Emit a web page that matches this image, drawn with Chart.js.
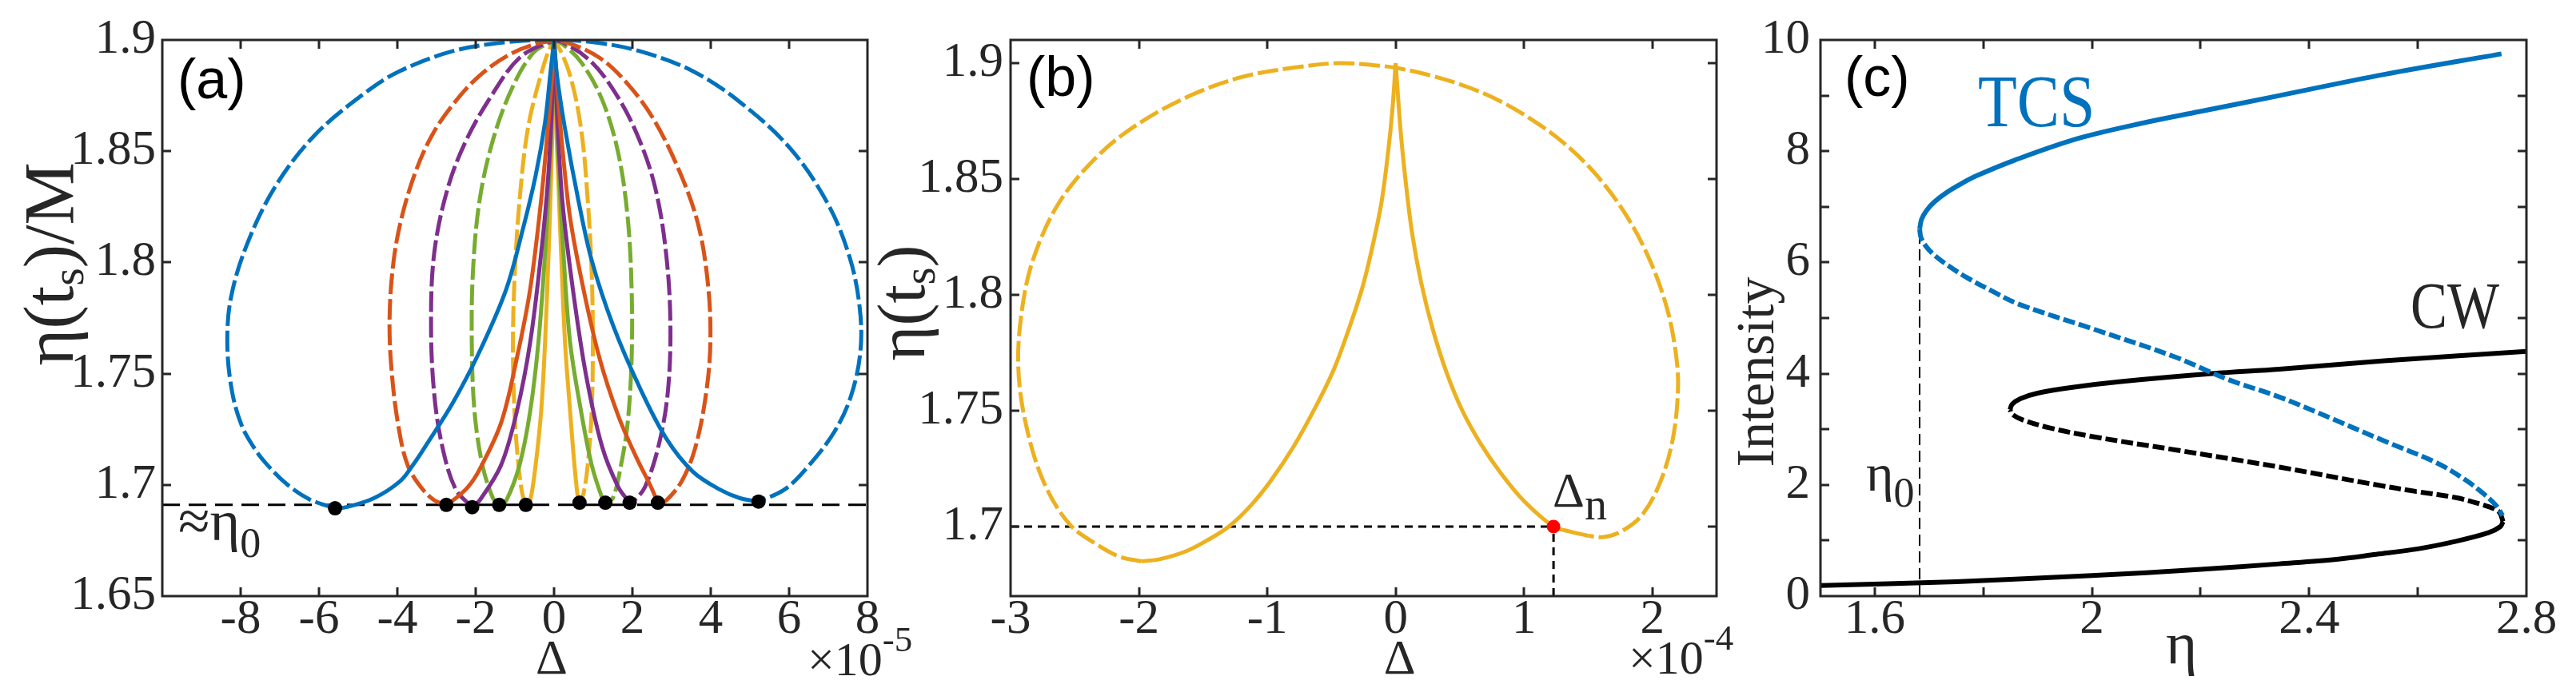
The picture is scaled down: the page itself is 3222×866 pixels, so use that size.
<!DOCTYPE html>
<html>
<head>
<meta charset="utf-8">
<script src="https://cdn.jsdelivr.net/npm/chart.js@4.4.1/dist/chart.umd.min.js"></script>
<style>
  body { margin: 0; background: #fff; }
  #wrap { position: relative; width: 3222px; height: 866px; background: #fff; }
  .panel { position: absolute; top: 0; height: 866px; }
</style>
</head>
<body>
<div id="wrap">
  <div class="panel" style="left:0px;width:1180px"><canvas id="chartA" width="1180" height="866"></canvas></div>
  <div class="panel" style="left:1090px;width:1110px"><canvas id="chartB" width="1110" height="866"></canvas></div>
  <div class="panel" style="left:2160px;width:1062px"><canvas id="chartC" width="1062" height="866"></canvas></div>
</div>
<script>
// ---- panel (a) : eta(ts)/M vs Delta (x1e-5) ----
var blueOuter = [[-5.59,1.6895],[-6.24,1.6935],[-6.8,1.700],[-7.35,1.7096],[-7.67,1.717],[-7.98,1.727],[-8.22,1.742],[-8.34,1.763],[-8.25,1.784],[-7.84,1.808],[-7.12,1.834],[-6.12,1.857],[-4.84,1.876],[-3.94,1.886],[-2.58,1.895],[-1.22,1.899],[0,1.9],[1.0,1.899],[2.18,1.895],[3.54,1.886],[4.75,1.872],[6.04,1.851],[7.0,1.826],[7.55,1.802],[7.80,1.780],[7.82,1.760],[7.58,1.740],[7.16,1.724],[6.47,1.708],[5.89,1.698],[5.22,1.6925]];
var blueSolidL = [[-5.59,1.6895],[-5.3,1.690],[-4.6,1.694],[-3.94,1.7015],[-3.6,1.709],[-3.26,1.718],[-2.58,1.737],[-1.90,1.760],[-1.22,1.788],[-0.81,1.814],[-0.47,1.839],[-0.23,1.863],[-0.10,1.884],[0,1.9]];
var blueSolidR = [[0,1.9],[0.075,1.884],[0.28,1.860],[0.62,1.828],[0.96,1.801],[1.50,1.772],[2.18,1.744],[2.86,1.721],[3.54,1.706],[4.22,1.698],[4.75,1.694],[5.22,1.6925]];
var orangeOuter = [[-2.75,1.691],[-3.05,1.693],[-3.40,1.699],[-3.74,1.709],[-3.96,1.725],[-4.13,1.748],[-4.20,1.772],[-4.12,1.797],[-3.92,1.818],[-3.55,1.840],[-3.12,1.857],[-2.58,1.871],[-1.90,1.884],[-1.08,1.894],[-0.27,1.899],[0.28,1.899],[1.16,1.892],[1.84,1.881],[2.52,1.865],[3.2,1.841],[3.68,1.817],[3.93,1.790],[3.99,1.764],[3.88,1.741],[3.61,1.717],[3.27,1.702],[2.86,1.693],[2.65,1.692]];
var orangeSolidL = [[-2.75,1.691],[-2.58,1.693],[-2.2,1.699],[-1.90,1.707],[-1.35,1.728],[-0.95,1.757],[-0.61,1.788],[-0.33,1.828],[-0.16,1.860],[-0.06,1.881],[0,1.9]];
var orangeSolidR = [[0,1.9],[0.075,1.881],[0.21,1.852],[0.41,1.820],[0.75,1.788],[1.16,1.757],[1.64,1.731],[2.11,1.712],[2.45,1.700],[2.65,1.692]];
var purpleOuter = [[-2.09,1.690],[-2.51,1.698],[-2.85,1.717],[-3.06,1.741],[-3.14,1.772],[-3.06,1.804],[-2.72,1.833],[-2.24,1.855],[-1.56,1.876],[-0.88,1.892],[-0.13,1.899],[0.21,1.899],[0.96,1.890],[1.64,1.874],[2.18,1.855],[2.59,1.833],[2.86,1.804],[2.97,1.772],[2.90,1.741],[2.66,1.717],[2.32,1.699],[2.05,1.693],[1.93,1.692]];
var purpleSolidL = [[-2.09,1.690],[-1.90,1.693],[-1.35,1.709],[-0.95,1.733],[-0.61,1.764],[-0.33,1.804],[-0.16,1.836],[-0.06,1.868],[0,1.9]];
var purpleSolidR = [[0,1.9],[0.075,1.868],[0.21,1.828],[0.48,1.788],[0.82,1.749],[1.23,1.717],[1.64,1.699],[1.93,1.692]];
var greenOuter = [[-1.40,1.691],[-1.56,1.694],[-1.83,1.709],[-2.03,1.733],[-2.10,1.764],[-2.07,1.796],[-1.90,1.828],[-1.56,1.855],[-1.08,1.878],[-0.54,1.894],[-0.06,1.899],[0.14,1.899],[0.69,1.890],[1.23,1.873],[1.64,1.849],[1.88,1.820],[1.98,1.788],[1.98,1.757],[1.88,1.728],[1.71,1.709],[1.50,1.694],[1.31,1.692]];
var greenSolidL = [[-1.40,1.691],[-1.22,1.693],[-0.88,1.709],[-0.61,1.733],[-0.40,1.764],[-0.23,1.804],[-0.13,1.836],[-0.05,1.868],[0,1.9]];
var greenSolidR = [[0,1.9],[0.06,1.868],[0.14,1.836],[0.24,1.804],[0.41,1.764],[0.69,1.733],[0.96,1.709],[1.23,1.694],[1.31,1.692]];
var yellowOuter = [[-0.72,1.691],[-0.81,1.696],[-0.91,1.709],[-1.01,1.733],[-1.05,1.764],[-1.0,1.796],[-0.88,1.828],[-0.67,1.860],[-0.34,1.884],[-0.06,1.898],[0.075,1.898],[0.41,1.884],[0.69,1.860],[0.86,1.828],[0.96,1.796],[0.99,1.764],[0.96,1.733],[0.86,1.709],[0.75,1.696],[0.65,1.692]];
var yellowSolidL = [[-0.72,1.691],[-0.61,1.693],[-0.47,1.709],[-0.33,1.733],[-0.23,1.764],[-0.14,1.804],[-0.08,1.836],[-0.03,1.868],[0,1.9]];
var yellowSolidR = [[0,1.9],[0.04,1.868],[0.11,1.836],[0.18,1.804],[0.28,1.764],[0.41,1.733],[0.52,1.709],[0.61,1.694],[0.65,1.692]];
var dotsAX = [-5.59, -2.75, -2.09, -1.40, -0.72, 0.65, 1.31, 1.93, 2.65, 5.22];
var dotsAY = [1.6895, 1.691, 1.690, 1.691, 1.691, 1.692, 1.692, 1.692, 1.692, 1.6925];
var eta0LineA = [[-10,1.691],[8,1.691]];
var xTicksA = [-8,-6,-4,-2,0,2,4,6,8];
var yTicksA = [1.65,1.7,1.75,1.8,1.85,1.9];

// ---- panel (b) : eta(ts) vs Delta (x1e-4) ----
var bOuter = [[-1.98,1.685],[-2.15,1.687],[-2.32,1.692],[-2.54,1.701],[-2.74,1.719],[-2.88,1.744],[-2.94,1.769],[-2.91,1.794],[-2.82,1.816],[-2.62,1.840],[-2.32,1.860],[-2.00,1.874],[-1.60,1.886],[-1.20,1.894],[-0.80,1.898],[-0.44,1.900],[-0.15,1.899],[0,1.898],[0.25,1.895],[0.545,1.890],[0.80,1.884],[1.05,1.876],[1.30,1.866],[1.56,1.852],[1.80,1.834],[1.98,1.815],[2.11,1.795],[2.18,1.776],[2.20,1.760],[2.16,1.738],[2.06,1.719],[1.92,1.705],[1.76,1.698],[1.62,1.6955],[1.50,1.696]];
var bSolidL = [[-1.98,1.685],[-1.84,1.6859],[-1.635,1.6893],[-1.47,1.694],[-1.30,1.700],[-1.13,1.709],[-0.97,1.720],[-0.79,1.735],[-0.62,1.752],[-0.48,1.768],[-0.36,1.786],[-0.26,1.803],[-0.18,1.821],[-0.11,1.840],[-0.06,1.861],[-0.025,1.880],[0,1.9]];
var bSolidR = [[1.50,1.696],[1.35,1.698],[1.23,1.700],[1.0,1.711],[0.82,1.723],[0.66,1.736],[0.52,1.750],[0.40,1.766],[0.29,1.785],[0.20,1.805],[0.13,1.826],[0.08,1.848],[0.04,1.870],[0,1.9]];
var bRefH = [[-3,1.7],[1.23,1.7]];
var bRefV = [[1.23,1.67],[1.23,1.7]];
var bDot = [[1.23,1.7]];
var xTicksB = [-3,-2,-1,0,1,2];
var yTicksB = [1.7,1.75,1.8,1.85,1.9];

// ---- panel (c) : Intensity vs eta ----
var tcsUpper = [[1.6826,6.598],[1.686,6.77],[1.695,6.93],[1.71,7.09],[1.731,7.25],[1.76,7.42],[1.788,7.56],[1.858,7.84],[1.975,8.23],[2.1,8.52],[2.197,8.71],[2.345,9.0],[2.538,9.38],[2.754,9.75]];
var tcsLower = [[1.6826,6.598],[1.685,6.45],[1.695,6.28],[1.711,6.12],[1.737,5.93],[1.769,5.73],[1.815,5.49],[1.865,5.25],[2.0,4.81],[2.153,4.30],[2.249,3.90],[2.345,3.58],[2.442,3.19],[2.538,2.79],[2.634,2.40],[2.686,2.10],[2.72,1.85],[2.745,1.62],[2.756,1.45]];
var cwLower = [[1.5,0.19],[1.75,0.26],[2.0,0.37],[2.2,0.48],[2.345,0.58],[2.45,0.66],[2.523,0.75],[2.6,0.85],[2.672,0.99],[2.73,1.14],[2.752,1.25],[2.757,1.34]];
var cwMiddle = [[2.757,1.34],[2.749,1.52],[2.72,1.64],[2.67,1.77],[2.598,1.88],[2.524,2.0],[2.345,2.32],[2.153,2.63],[2.0,2.87],[1.92,3.03],[1.872,3.17],[1.853,3.27],[1.849,3.35]];
var cwUpper = [[1.849,3.35],[1.853,3.45],[1.868,3.55],[1.90,3.65],[1.961,3.75],[2.057,3.86],[2.221,4.0],[2.345,4.08],[2.538,4.23],[2.8,4.40]];
var eta0LineC = [[1.6826,0],[1.6826,6.55]];
var xTicksC = [1.6,1.8,2.0,2.2,2.4,2.6,2.8];
var xLabelsC = ['1.6','','2','','2.4','','2.8'];
var yTicksC = [0,1,2,3,4,5,6,7,8,9,10];
var yLabelsC = ['0','','2','','4','','6','','8','','10'];

var BLUE = '#0072BD', ORANGE = '#D95319', YELLOW = '#EDB120', PURPLE = '#7E2F8E', GREEN = '#77AC30';
var INK = '#262626';
var SERIF = "'Liberation Serif', 'Times New Roman', serif";
var SANS = "'Liberation Sans', Arial, sans-serif";

function line(pts, color, width, dash, tension) {
    return {
        data: pts.map(function (p) { return { x: p[0], y: p[1] }; }),
        showLine: true,
        borderColor: color,
        backgroundColor: color,
        borderWidth: width,
        borderDash: dash || [],
        pointRadius: 0,
        tension: tension === undefined ? 0.35 : tension,
        fill: false
    };
}

function axis(min, max, vals, labels, size, pad, fitSize, isY) {
    return {
        type: 'linear',
        position: isY ? 'left' : 'bottom',
        min: min,
        max: max,
        grid: { display: false, drawTicks: false },
        border: { display: false },
        afterBuildTicks: function (scale) {
            scale.ticks = vals.map(function (v) { return { value: v }; });
        },
        afterFit: function (scale) {
            if (isY) scale.width = fitSize; else scale.height = fitSize;
        },
        ticks: {
            autoSkip: false,
            maxRotation: 0,
            minRotation: 0,
            padding: pad,
            color: INK,
            font: { family: SERIF, size: size },
            callback: function (v, i) { return labels ? labels[i] : String(v); }
        }
    };
}

// Matlab-style box with inward ticks on all four sides
var boxPlugin = {
    id: 'box',
    afterDatasetsDraw: function (chart) {
        var ctx = chart.ctx, a = chart.chartArea;
        var xs = chart.scales.x, ys = chart.scales.y;
        ctx.save();
        ctx.strokeStyle = INK;
        ctx.lineWidth = 3;
        ctx.strokeRect(Math.round(a.left), Math.round(a.top), Math.round(a.right - a.left), Math.round(a.bottom - a.top));
        ctx.beginPath();
        xs.ticks.forEach(function (t) {
            if (t.value <= xs.min + 1e-9 || t.value >= xs.max - 1e-9) return;
            var p = Math.round(xs.getPixelForValue(t.value));
            ctx.moveTo(p, a.bottom); ctx.lineTo(p, a.bottom - 11);
            ctx.moveTo(p, a.top); ctx.lineTo(p, a.top + 11);
        });
        ys.ticks.forEach(function (t) {
            if (t.value <= ys.min + 1e-9 || t.value >= ys.max - 1e-9) return;
            var p = Math.round(ys.getPixelForValue(t.value));
            ctx.moveTo(a.left, p); ctx.lineTo(a.left + 11, p);
            ctx.moveTo(a.right, p); ctx.lineTo(a.right - 11, p);
        });
        ctx.stroke();
        ctx.restore();
    }
};

// text annotations anchored on data values, with pixel offsets and subscripts
function textPlugin(items) {
    return {
        id: 'textMarks',
        afterDraw: function (chart) {
            var ctx = chart.ctx, xs = chart.scales.x, ys = chart.scales.y;
            items.forEach(function (it) {
                var px = xs.getPixelForValue(it.x) + (it.ox || 0);
                var py = ys.getPixelForValue(it.y) + (it.oy || 0);
                ctx.save();
                ctx.translate(px, py);
                if (it.rotate) ctx.rotate(it.rotate);
                if (it.sx) ctx.scale(it.sx, 1);
                ctx.fillStyle = it.color || INK;
                ctx.textBaseline = 'alphabetic';
                ctx.textAlign = 'left';
                var w = 0;
                it.parts.forEach(function (p) {
                    ctx.font = p.size + 'px ' + (it.family || SERIF);
                    w += ctx.measureText(p.t).width;
                });
                var cx = it.align === 'center' ? -w / 2 : 0;
                it.parts.forEach(function (p) {
                    ctx.font = p.size + 'px ' + (it.family || SERIF);
                    ctx.fillText(p.t, cx, p.dy || 0);
                    cx += ctx.measureText(p.t).width;
                });
                ctx.restore();
            });
        }
    };
}

var common = {
    responsive: false,
    animation: false,
    devicePixelRatio: 1,
    plugins: { legend: { display: false }, tooltip: { enabled: false } }
};

var DASH = [26, 6];

// Panel (a)
new Chart(document.getElementById('chartA').getContext('2d'), {
    type: 'scatter',
    data: {
        datasets: [
            {
                data: dotsAX.map(function (x, i) { return { x: x, y: dotsAY[i] }; }),
                pointRadius: 9, backgroundColor: '#000', borderWidth: 0, showLine: false
            },
            line(blueSolidL, BLUE, 5), line(blueSolidR, BLUE, 5), line(blueOuter, BLUE, 5, DASH),
            line(orangeSolidL, ORANGE, 5), line(orangeSolidR, ORANGE, 5), line(orangeOuter, ORANGE, 5, DASH),
            line(purpleSolidL, PURPLE, 5), line(purpleSolidR, PURPLE, 5), line(purpleOuter, PURPLE, 5, DASH),
            line(greenSolidL, GREEN, 5), line(greenSolidR, GREEN, 5), line(greenOuter, GREEN, 5, DASH),
            line(yellowSolidL, YELLOW, 5), line(yellowSolidR, YELLOW, 5), line(yellowOuter, YELLOW, 5, DASH),
            line(eta0LineA, '#000', 3, [22, 11], 0)
        ]
    },
    options: Object.assign({}, common, {
        layout: { padding: { top: 50, right: 95, left: 0, bottom: 0 } },
        scales: {
            x: axis(-10, 8, xTicksA, null, 61, -7, 120, false),
            y: axis(1.65, 1.9, yTicksA, null, 61, 8, 203, true)
        }
    }),
    plugins: [boxPlugin, textPlugin([
        { x: -10, y: 1.9, ox: 19, oy: 73, family: SANS, color: '#000', parts: [{ t: '(a)', size: 70 }] },
        { x: -10, y: 1.8, ox: -112, oy: 2, rotate: -Math.PI / 2, align: 'center',
          parts: [{ t: 'η(t', size: 88 }, { t: 's', size: 58, dy: 13 }, { t: ')/M', size: 88 }] },
        { x: 0, y: 1.65, ox: -3, oy: 97, align: 'center', parts: [{ t: 'Δ', size: 62 }] },
        { x: 8, y: 1.65, ox: -75, oy: 99, parts: [{ t: '×10', size: 60 }, { t: '-5', size: 45, dy: -30 }] },
        { x: -10, y: 1.65, ox: 20, oy: -70, parts: [{ t: '≈η', size: 72 }, { t: '0', size: 52, dy: 21 }] }
    ])]
});

// Panel (b)
new Chart(document.getElementById('chartB').getContext('2d'), {
    type: 'scatter',
    data: {
        datasets: [
            { data: bDot.map(function (p) { return { x: p[0], y: p[1] }; }),
              pointRadius: 8.5, backgroundColor: '#FF0000', borderWidth: 0, showLine: false },
            line(bSolidL, YELLOW, 5), line(bSolidR, YELLOW, 5), line(bOuter, YELLOW, 5, DASH),
            line(bRefH, '#000', 3, [10, 7], 0), line(bRefV, '#000', 3, [10, 7], 0)
        ]
    },
    options: Object.assign({}, common, {
        layout: { padding: { top: 50, right: 53, left: 0, bottom: 0 } },
        scales: {
            x: axis(-3, 2.5, xTicksB, null, 61, -7, 120, false),
            y: axis(1.67, 1.91, yTicksB, null, 61, 9, 174, true)
        }
    }),
    plugins: [boxPlugin, textPlugin([
        { x: -3, y: 1.91, ox: 20, oy: 70, family: SANS, color: '#000', parts: [{ t: '(b)', size: 70 }] },
        { x: -3, y: 1.8, ox: -108, oy: 10, rotate: -Math.PI / 2, align: 'center',
          parts: [{ t: 'η(t', size: 84 }, { t: 's', size: 56, dy: 13 }, { t: ')', size: 84 }] },
        { x: 0, y: 1.67, ox: 5, oy: 97, align: 'center', parts: [{ t: 'Δ', size: 62 }] },
        { x: 2.5, y: 1.67, ox: -110, oy: 97, parts: [{ t: '×10', size: 60 }, { t: '-4', size: 45, dy: -30 }] },
        { x: 1.23, y: 1.7, ox: -1, oy: -25, parts: [{ t: 'Δ', size: 62 }, { t: 'n', size: 56, dy: 16 }] }
    ])]
});

// Panel (c)
new Chart(document.getElementById('chartC').getContext('2d'), {
    type: 'scatter',
    data: {
        datasets: [
            line(tcsUpper, BLUE, 6), line(tcsLower, BLUE, 6, [15, 5]),
            line(cwUpper, '#000', 6), line(cwMiddle, '#000', 6, [15, 5]), line(cwLower, '#000', 6),
            line(eta0LineC, '#000', 2, [14, 7], 0)
        ]
    },
    options: Object.assign({}, common, {
        layout: { padding: { top: 50, right: 62, left: 0, bottom: 0 } },
        scales: {
            x: axis(1.5, 2.8, xTicksC, xLabelsC, 61, -7, 120, false),
            y: axis(0, 10, yTicksC, yLabelsC, 61, 13, 117, true)
        }
    }),
    plugins: [boxPlugin, textPlugin([
        { x: 1.5, y: 10, ox: 30, oy: 70, family: SANS, color: '#000', parts: [{ t: '(c)', size: 70 }] },
        { x: 1.5, y: 10, ox: 197, oy: 108, sx: 0.85, color: BLUE, parts: [{ t: 'TCS', size: 94 }] },
        { x: 2.8, y: 10, ox: -145, oy: 360, sx: 0.83, parts: [{ t: 'CW', size: 83 }] },
        { x: 1.5, y: 2, ox: 57, oy: 7, parts: [{ t: 'η', size: 66 }, { t: '0', size: 52, dy: 20 }] },
        { x: 1.5, y: 4, ox: -59, oy: -2, rotate: -Math.PI / 2, align: 'center', parts: [{ t: 'Intensity', size: 68 }] },
        { x: 2.165, y: 0, ox: 0, oy: 84, align: 'center', parts: [{ t: 'η', size: 75 }] }
    ])]
});
</script>
</body>
</html>
